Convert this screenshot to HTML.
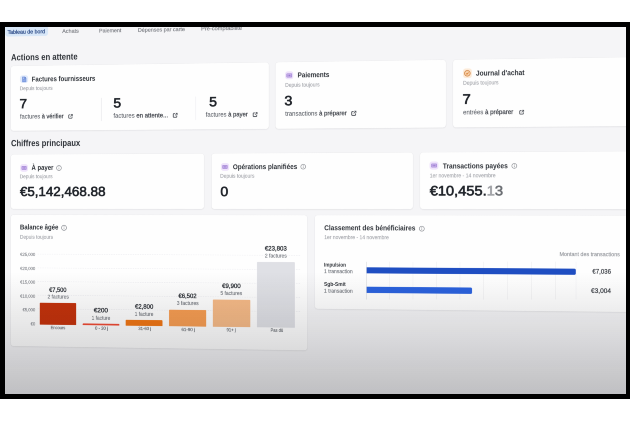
<!DOCTYPE html>
<html><head><meta charset="utf-8"><style>
html,body{margin:0;padding:0;background:#fff;width:630px;height:421px;overflow:hidden}
#frame{position:absolute;left:0;top:22px;width:630px;height:377px;background:#000}
#vp{position:absolute;left:5px;top:27px;width:621px;height:367px;overflow:hidden;background:#f5f5f7}
#scr{position:absolute;left:-5px;top:-27px;width:2800px;height:1760px;transform-origin:0 0;transform:translate(315.0px,204.0px) perspective(698.0px) rotateY(-4.0deg) translate(-315.0px,-204.0px) scale(0.25);font-family:"Liberation Sans",Arial,sans-serif;filter:blur(1.32px)}
#scr div{position:absolute}
.t{white-space:nowrap;line-height:1;transform-origin:0 0}
.t b{font-weight:400;-webkit-text-stroke:0.88px currentColor}
#shade{position:absolute;left:0;top:0;width:621px;height:367px;background:linear-gradient(to bottom,rgba(0,0,0,0) 0px,rgba(0,0,0,0) 245px,rgba(20,20,25,0.1) 300px,rgba(20,20,25,0.235) 367px)}
</style></head><body>
<div id="frame"></div>
<div id="vp"><div id="scr">
<div style="left:-22.44px;top:49.86px;width:182.41px;height:74.97px;background:#d8e7f8;border-radius:12.00px;"></div>
<div class="t" style="left:-11.77px;top:95.97px;font-size:22.40px;font-weight:400;color:#3b5891;transform:scaleX(0.9925);-webkit-text-stroke:1.20px currentColor;">Tableau de bord</div>
<div class="t" style="left:219.99px;top:96.27px;font-size:22.40px;font-weight:400;color:#808389;transform:scaleX(1.0214);-webkit-text-stroke:0.72px currentColor;">Achats</div>
<div class="t" style="left:375.15px;top:97.08px;font-size:22.40px;font-weight:400;color:#808389;transform:scaleX(0.9805);-webkit-text-stroke:0.72px currentColor;">Paiement</div>
<div class="t" style="left:537.04px;top:96.66px;font-size:22.40px;font-weight:400;color:#808389;transform:scaleX(0.9965);-webkit-text-stroke:0.72px currentColor;">Dépenses par carte</div>
<div class="t" style="left:797.61px;top:96.47px;font-size:22.40px;font-weight:400;color:#808389;transform:scaleX(1.0326);-webkit-text-stroke:0.72px currentColor;">Pré-comptabilité</div>
<div class="t" style="left:3.17px;top:192.53px;font-size:37.60px;font-weight:700;color:#30343a;transform:scaleX(0.8657);">Actions en attente</div>
<div class="t" style="left:3.17px;top:547.38px;font-size:37.60px;font-weight:700;color:#30343a;transform:scaleX(0.8553);">Chiffres principaux</div>
<div style="left:2.00px;top:247.20px;width:1071.60px;height:266.80px;background:#fefefe;border-radius:12.00px;box-shadow:0 2.40px 4.80px rgba(40,45,60,0.07),0 0 0 1.60px rgba(40,45,60,0.04);"></div>
<div style="left:1100.80px;top:247.20px;width:677.20px;height:266.80px;background:#fefefe;border-radius:12.00px;box-shadow:0 2.40px 4.80px rgba(40,45,60,0.07),0 0 0 1.60px rgba(40,45,60,0.04);"></div>
<div style="left:1806.40px;top:247.20px;width:753.60px;height:266.80px;background:#fefefe;border-radius:12.00px;box-shadow:0 2.40px 4.80px rgba(40,45,60,0.07),0 0 0 1.60px rgba(40,45,60,0.04);"></div>
<div style="left:2.00px;top:612.40px;width:808.40px;height:223.20px;background:#fefefe;border-radius:12.00px;box-shadow:0 2.40px 4.80px rgba(40,45,60,0.07),0 0 0 1.60px rgba(40,45,60,0.04);"></div>
<div style="left:841.20px;top:612.40px;width:808.00px;height:223.20px;background:#fefefe;border-radius:12.00px;box-shadow:0 2.40px 4.80px rgba(40,45,60,0.07),0 0 0 1.60px rgba(40,45,60,0.04);"></div>
<div style="left:1676.80px;top:612.40px;width:883.20px;height:223.20px;background:#fefefe;border-radius:12.00px;box-shadow:0 2.40px 4.80px rgba(40,45,60,0.07),0 0 0 1.60px rgba(40,45,60,0.04);"></div>
<div style="left:2.00px;top:860.80px;width:1227.20px;height:540.80px;background:#fefefe;border-radius:12.00px;box-shadow:0 2.40px 4.80px rgba(40,45,60,0.07),0 0 0 1.60px rgba(40,45,60,0.04);"></div>
<div style="left:1259.20px;top:860.80px;width:1300.80px;height:374.40px;background:#fefefe;border-radius:12.00px;box-shadow:0 2.40px 4.80px rgba(40,45,60,0.07),0 0 0 1.60px rgba(40,45,60,0.04);"></div>
<div style="left:41.10px;top:285.52px;width:35.31px;height:31.34px;background:#e2ebfb;border-radius:10.59px"><svg width="35.31px" height="31.34px" viewBox="0 0 10 10" style="display:block"><path d="M2.9 1.6h3l2.2 2.2v4.6a0.6 0.6 0 0 1-0.6 0.6H2.9a0.6 0.6 0 0 1-0.6-0.6V2.2a0.6 0.6 0 0 1 0.6-0.6z" fill="#7f9de0"/><path d="M5.9 1.6v1.7a0.5 0.5 0 0 0 0.5 0.5h1.7z" fill="#4a6cc2"/><path d="M3.9 3.0h1.4l-1.4 1.6z" fill="#f2f6fe"/><rect x="3.6" y="6.1" width="3.1" height="0.6" fill="#a9bfee"/></svg></div>
<div class="t" style="left:90.85px;top:286.64px;font-size:29.60px;font-weight:700;color:#30343a;transform:scaleX(0.8632);">Factures fournisseurs</div>
<div class="t" style="left:40.24px;top:329.05px;font-size:22.00px;font-weight:400;color:#a2a4aa;transform:scaleX(0.9133);-webkit-text-stroke:0.40px currentColor;">Depuis toujours</div>
<div class="t" style="left:38.54px;top:376.13px;font-size:53.20px;font-weight:400;color:#22262c;transform:scaleX(1.0800);-webkit-text-stroke:2.32px currentColor;">7</div>
<div class="t" style="left:41.10px;top:442.37px;font-size:26.00px;font-weight:400;color:#62666d;transform:scaleX(0.9268);-webkit-text-stroke:0.40px currentColor;">factures <b style="color:#42464d">à vérifier</b></div>
<div style="left:244.04px;top:446.45px"><svg width="21.49px" height="19.87px" viewBox="0 0 10 10" style="display:block;overflow:visible"><path d="M4.2 2.2H2.6a1.2 1.2 0 0 0-1.2 1.2v4.5a1.2 1.2 0 0 0 1.2 1.2h4.6a1.2 1.2 0 0 0 1.2-1.2V6.2" fill="none" stroke="#50545b" stroke-width="1.7" stroke-linecap="round"/><path d="M5.3 5.3L8.3 2.3" fill="none" stroke="#50545b" stroke-width="1.3" stroke-linecap="round"/><path d="M6.2 1.0H9.6V4.4z" fill="#50545b" stroke="#50545b" stroke-width="0.6" stroke-linejoin="round"/></svg></div>
<div style="left:383.17px;top:381.91px;width:2.40px;height:94.83px;background:#ebebee;"></div>
<div class="t" style="left:434.97px;top:376.70px;font-size:53.20px;font-weight:400;color:#22262c;transform:scaleX(1.0800);-webkit-text-stroke:2.32px currentColor;">5</div>
<div class="t" style="left:434.97px;top:442.25px;font-size:26.00px;font-weight:400;color:#62666d;transform:scaleX(0.9585);-webkit-text-stroke:0.40px currentColor;">factures <b style="color:#42464d">en attente...</b></div>
<div style="left:679.51px;top:444.69px"><svg width="21.86px" height="20.88px" viewBox="0 0 10 10" style="display:block;overflow:visible"><path d="M4.2 2.2H2.6a1.2 1.2 0 0 0-1.2 1.2v4.5a1.2 1.2 0 0 0 1.2 1.2h4.6a1.2 1.2 0 0 0 1.2-1.2V6.2" fill="none" stroke="#50545b" stroke-width="1.7" stroke-linecap="round"/><path d="M5.3 5.3L8.3 2.3" fill="none" stroke="#50545b" stroke-width="1.3" stroke-linecap="round"/><path d="M6.2 1.0H9.6V4.4z" fill="#50545b" stroke="#50545b" stroke-width="0.6" stroke-linejoin="round"/></svg></div>
<div style="left:775.06px;top:380.80px;width:2.40px;height:95.14px;background:#ebebee;"></div>
<div class="t" style="left:831.22px;top:376.09px;font-size:53.20px;font-weight:400;color:#22262c;transform:scaleX(1.0800);-webkit-text-stroke:2.32px currentColor;">5</div>
<div class="t" style="left:816.88px;top:440.87px;font-size:26.00px;font-weight:400;color:#62666d;transform:scaleX(0.9195);-webkit-text-stroke:0.40px currentColor;">factures <b style="color:#42464d">à payer</b></div>
<div style="left:1006.19px;top:445.26px"><svg width="23.94px" height="20.74px" viewBox="0 0 10 10" style="display:block;overflow:visible"><path d="M4.2 2.2H2.6a1.2 1.2 0 0 0-1.2 1.2v4.5a1.2 1.2 0 0 0 1.2 1.2h4.6a1.2 1.2 0 0 0 1.2-1.2V6.2" fill="none" stroke="#50545b" stroke-width="1.7" stroke-linecap="round"/><path d="M5.3 5.3L8.3 2.3" fill="none" stroke="#50545b" stroke-width="1.3" stroke-linecap="round"/><path d="M6.2 1.0H9.6V4.4z" fill="#50545b" stroke="#50545b" stroke-width="0.6" stroke-linejoin="round"/></svg></div>
<div style="left:1139.75px;top:283.61px;width:33.05px;height:32.51px;background:#efe3fb;border-radius:9.92px"><svg width="33.05px" height="32.51px" viewBox="0 0 10 10" style="display:block"><rect x="1.9" y="3.0" width="6.2" height="4.1" rx="0.5" fill="#c7aeea"/><rect x="1.9" y="3.0" width="6.2" height="4.1" rx="0.5" fill="none" stroke="#a386d6" stroke-width="0.8"/><circle cx="5" cy="5.05" r="0.9" fill="#9579cc"/><circle cx="3.2" cy="5.05" r="0.35" fill="#9579cc"/><circle cx="6.8" cy="5.05" r="0.35" fill="#9579cc"/></svg></div>
<div class="t" style="left:1189.71px;top:283.66px;font-size:29.60px;font-weight:700;color:#30343a;transform:scaleX(0.8614);">Paiements</div>
<div class="t" style="left:1139.75px;top:327.58px;font-size:22.00px;font-weight:400;color:#a2a4aa;transform:scaleX(0.9073);-webkit-text-stroke:0.40px currentColor;">Depuis toujours</div>
<div class="t" style="left:1137.33px;top:374.69px;font-size:53.20px;font-weight:400;color:#22262c;transform:scaleX(1.0800);-webkit-text-stroke:2.32px currentColor;">3</div>
<div class="t" style="left:1139.75px;top:440.02px;font-size:26.00px;font-weight:400;color:#62666d;transform:scaleX(0.9237);-webkit-text-stroke:0.40px currentColor;">transactions <b style="color:#42464d">à préparer</b></div>
<div style="left:1401.84px;top:442.93px"><svg width="25.07px" height="21.74px" viewBox="0 0 10 10" style="display:block;overflow:visible"><path d="M4.2 2.2H2.6a1.2 1.2 0 0 0-1.2 1.2v4.5a1.2 1.2 0 0 0 1.2 1.2h4.6a1.2 1.2 0 0 0 1.2-1.2V6.2" fill="none" stroke="#50545b" stroke-width="1.7" stroke-linecap="round"/><path d="M5.3 5.3L8.3 2.3" fill="none" stroke="#50545b" stroke-width="1.3" stroke-linecap="round"/><path d="M6.2 1.0H9.6V4.4z" fill="#50545b" stroke="#50545b" stroke-width="0.6" stroke-linejoin="round"/></svg></div>
<div style="left:1845.16px;top:281.53px;width:33.45px;height:38.26px;background:#fdebd9;border-radius:10.04px"><svg width="33.45px" height="38.26px" viewBox="0 0 10 10" style="display:block"><circle cx="5" cy="5" r="3.3" fill="#f8d4ae" stroke="#d4894a" stroke-width="0.9"/><path d="M3.6 5.1l1 1l1.8-2" fill="none" stroke="#d9782c" stroke-width="0.9"/></svg></div>
<div class="t" style="left:1895.33px;top:285.53px;font-size:29.60px;font-weight:700;color:#30343a;transform:scaleX(0.8633);">Journal d'achat</div>
<div class="t" style="left:1845.16px;top:328.40px;font-size:22.00px;font-weight:400;color:#a2a4aa;transform:scaleX(0.9010);-webkit-text-stroke:0.40px currentColor;">Depuis toujours</div>
<div class="t" style="left:1842.83px;top:376.18px;font-size:53.20px;font-weight:400;color:#22262c;transform:scaleX(1.0800);-webkit-text-stroke:2.32px currentColor;">7</div>
<div class="t" style="left:1845.16px;top:440.92px;font-size:26.00px;font-weight:400;color:#62666d;transform:scaleX(0.9092);-webkit-text-stroke:0.40px currentColor;">entrées <b style="color:#42464d">à préparer</b></div>
<div style="left:2060.07px;top:446.34px"><svg width="23.09px" height="19.41px" viewBox="0 0 10 10" style="display:block;overflow:visible"><path d="M4.2 2.2H2.6a1.2 1.2 0 0 0-1.2 1.2v4.5a1.2 1.2 0 0 0 1.2 1.2h4.6a1.2 1.2 0 0 0 1.2-1.2V6.2" fill="none" stroke="#50545b" stroke-width="1.7" stroke-linecap="round"/><path d="M5.3 5.3L8.3 2.3" fill="none" stroke="#50545b" stroke-width="1.3" stroke-linecap="round"/><path d="M6.2 1.0H9.6V4.4z" fill="#50545b" stroke="#50545b" stroke-width="0.6" stroke-linejoin="round"/></svg></div>
<div style="left:41.95px;top:652.37px;width:32.76px;height:30.61px;background:#efe3fb;border-radius:9.83px"><svg width="32.76px" height="30.61px" viewBox="0 0 10 10" style="display:block"><rect x="1.9" y="3.0" width="6.2" height="4.1" rx="0.5" fill="#c7aeea"/><rect x="1.9" y="3.0" width="6.2" height="4.1" rx="0.5" fill="none" stroke="#a386d6" stroke-width="0.8"/><circle cx="5" cy="5.05" r="0.9" fill="#9579cc"/><circle cx="3.2" cy="5.05" r="0.35" fill="#9579cc"/><circle cx="6.8" cy="5.05" r="0.35" fill="#9579cc"/></svg></div>
<div class="t" style="left:89.58px;top:650.71px;font-size:29.60px;font-weight:700;color:#30343a;transform:scaleX(0.8547);">À payer</div>
<div style="left:194.23px;top:655.96px"><svg width="24.50px" height="24.50px" viewBox="0 0 10 10" style="display:block"><circle cx="5" cy="5" r="4.1" fill="none" stroke="#8a8d93" stroke-width="1"/><rect x="4.5" y="4.4" width="1" height="3" fill="#8a8d93"/><circle cx="5" cy="3" r="0.65" fill="#8a8d93"/></svg></div>
<div class="t" style="left:39.82px;top:692.40px;font-size:22.00px;font-weight:400;color:#a2a4aa;transform:scaleX(0.9133);-webkit-text-stroke:0.40px currentColor;">Depuis toujours</div>
<div class="t" style="left:41.10px;top:738.10px;font-size:53.20px;font-weight:400;color:#22262c;transform:scaleX(1.0619);-webkit-text-stroke:2.32px currentColor;">€5,142,468.88</div>
<div style="left:879.09px;top:651.25px;width:33.48px;height:30.40px;background:#efe3fb;border-radius:10.04px"><svg width="33.48px" height="30.40px" viewBox="0 0 10 10" style="display:block"><rect x="1.9" y="3.0" width="6.2" height="4.1" rx="0.5" fill="#c7aeea"/><rect x="1.9" y="3.0" width="6.2" height="4.1" rx="0.5" fill="none" stroke="#a386d6" stroke-width="0.8"/><circle cx="5" cy="5.05" r="0.9" fill="#9579cc"/><circle cx="3.2" cy="5.05" r="0.35" fill="#9579cc"/><circle cx="6.8" cy="5.05" r="0.35" fill="#9579cc"/></svg></div>
<div class="t" style="left:928.07px;top:651.04px;font-size:29.60px;font-weight:700;color:#30343a;transform:scaleX(0.8665);">Opérations planifiées</div>
<div style="left:1200.97px;top:654.97px"><svg width="23.31px" height="23.31px" viewBox="0 0 10 10" style="display:block"><circle cx="5" cy="5" r="4.1" fill="none" stroke="#8a8d93" stroke-width="1"/><rect x="4.5" y="4.4" width="1" height="3" fill="#8a8d93"/><circle cx="5" cy="3" r="0.65" fill="#8a8d93"/></svg></div>
<div class="t" style="left:876.23px;top:691.74px;font-size:22.00px;font-weight:400;color:#a2a4aa;transform:scaleX(0.9139);-webkit-text-stroke:0.40px currentColor;">Depuis toujours</div>
<div class="t" style="left:876.64px;top:739.06px;font-size:53.20px;font-weight:400;color:#22262c;transform:scaleX(1.0800);-webkit-text-stroke:2.32px currentColor;">0</div>
<div style="left:1713.52px;top:648.32px;width:35.63px;height:31.36px;background:#efe3fb;border-radius:10.69px"><svg width="35.63px" height="31.36px" viewBox="0 0 10 10" style="display:block"><rect x="1.9" y="3.0" width="6.2" height="4.1" rx="0.5" fill="#c7aeea"/><rect x="1.9" y="3.0" width="6.2" height="4.1" rx="0.5" fill="none" stroke="#a386d6" stroke-width="0.8"/><circle cx="5" cy="5.05" r="0.9" fill="#9579cc"/><circle cx="3.2" cy="5.05" r="0.35" fill="#9579cc"/><circle cx="6.8" cy="5.05" r="0.35" fill="#9579cc"/></svg></div>
<div class="t" style="left:1766.36px;top:650.80px;font-size:29.60px;font-weight:700;color:#30343a;transform:scaleX(0.8669);">Transactions payées</div>
<div style="left:2031.55px;top:654.63px"><svg width="23.13px" height="23.13px" viewBox="0 0 10 10" style="display:block"><circle cx="5" cy="5" r="4.1" fill="none" stroke="#8a8d93" stroke-width="1"/><rect x="4.5" y="4.4" width="1" height="3" fill="#8a8d93"/><circle cx="5" cy="3" r="0.65" fill="#8a8d93"/></svg></div>
<div class="t" style="left:1715.09px;top:692.55px;font-size:22.00px;font-weight:400;color:#a2a4aa;transform:scaleX(0.9031);-webkit-text-stroke:0.40px currentColor;">1er novembre - 14 novembre</div>
<div class="t" style="left:1715.09px;top:736.71px;font-size:53.20px;font-weight:400;color:#22262c;transform:scaleX(1.0711);-webkit-text-stroke:2.32px currentColor;">€10,455.<span style="color:#a2a4a8">1</span><span style="color:#6c6f74">3</span></div>
<div class="t" style="left:40.67px;top:896.25px;font-size:29.60px;font-weight:700;color:#30343a;transform:scaleX(0.8606);">Balance âgée</div>
<div style="left:214.51px;top:900.59px"><svg width="25.32px" height="25.32px" viewBox="0 0 10 10" style="display:block"><circle cx="5" cy="5" r="4.1" fill="none" stroke="#8a8d93" stroke-width="1"/><rect x="4.5" y="4.4" width="1" height="3" fill="#8a8d93"/><circle cx="5" cy="3" r="0.65" fill="#8a8d93"/></svg></div>
<div class="t" style="left:40.67px;top:940.94px;font-size:22.00px;font-weight:400;color:#a2a4aa;transform:scaleX(0.9160);-webkit-text-stroke:0.40px currentColor;">Depuis toujours</div>
<div class="t" style="left:42.09px;top:1015.92px;font-size:17.60px;font-weight:400;color:#7f8288;-webkit-text-stroke:0.40px currentColor;">€25,000</div>
<div style="left:116.32px;top:1020.85px;width:1083.44px;height:2.00px;border-top:2.00px dashed #ececf0;"></div>
<div class="t" style="left:42.09px;top:1073.54px;font-size:17.60px;font-weight:400;color:#7f8288;-webkit-text-stroke:0.40px currentColor;">€20,000</div>
<div style="left:116.32px;top:1077.69px;width:1083.44px;height:2.00px;border-top:2.00px dashed #ececf0;"></div>
<div class="t" style="left:42.09px;top:1130.33px;font-size:17.60px;font-weight:400;color:#7f8288;-webkit-text-stroke:0.40px currentColor;">€15,000</div>
<div style="left:116.32px;top:1133.72px;width:1083.44px;height:2.00px;border-top:2.00px dashed #ececf0;"></div>
<div class="t" style="left:42.09px;top:1187.53px;font-size:17.60px;font-weight:400;color:#7f8288;-webkit-text-stroke:0.40px currentColor;">€10,000</div>
<div style="left:116.32px;top:1190.16px;width:1083.44px;height:2.00px;border-top:2.00px dashed #ececf0;"></div>
<div class="t" style="left:51.88px;top:1244.33px;font-size:17.60px;font-weight:400;color:#7f8288;-webkit-text-stroke:0.40px currentColor;">€5,000</div>
<div style="left:116.32px;top:1246.19px;width:1083.44px;height:2.00px;border-top:2.00px dashed #ececf0;"></div>
<div class="t" style="left:86.13px;top:1302.35px;font-size:17.60px;font-weight:400;color:#7f8288;-webkit-text-stroke:0.40px currentColor;">€0</div>
<div style="left:125.23px;top:1222.47px;width:153.35px;height:89.53px;background:#c4320b;border-radius:3.60px 3.60px 1.60px 1.60px;"></div>
<div style="left:306.34px;top:1304.88px;width:153.26px;height:7.12px;background:#f04b34;border-radius:3.60px 3.60px 1.60px 1.60px;"></div>
<div style="left:486.28px;top:1287.67px;width:153.16px;height:24.33px;background:#f07614;border-radius:3.60px 3.60px 1.60px 1.60px;"></div>
<div style="left:665.88px;top:1245.08px;width:152.64px;height:66.92px;background:#f79d52;border-radius:3.60px 3.60px 1.60px 1.60px;"></div>
<div style="left:846.37px;top:1201.62px;width:152.50px;height:110.38px;background:#f6ba87;border-radius:3.60px 3.60px 1.60px 1.60px;"></div>
<div style="left:1025.67px;top:1048.91px;width:153.17px;height:263.09px;background:#dfe0e5;border-radius:3.60px 3.60px 1.60px 1.60px;"></div>
<div class="t" style="left:165.47px;top:1154.88px;font-size:26.00px;font-weight:400;color:#30343a;transform:scaleX(0.9190);-webkit-text-stroke:1.20px currentColor;">€7,500</div>
<div class="t" style="left:158.27px;top:1186.25px;font-size:22.40px;font-weight:400;color:#6f737a;transform:scaleX(0.9148);-webkit-text-stroke:0.40px currentColor;">2 factures</div>
<div class="t" style="left:353.36px;top:1237.09px;font-size:26.00px;font-weight:400;color:#30343a;transform:scaleX(1.0280);-webkit-text-stroke:1.20px currentColor;">€200</div>
<div class="t" style="left:344.13px;top:1270.80px;font-size:22.40px;font-weight:400;color:#6f737a;transform:scaleX(0.8936);-webkit-text-stroke:0.40px currentColor;">1 facture</div>
<div class="t" style="left:524.99px;top:1220.08px;font-size:26.00px;font-weight:400;color:#30343a;transform:scaleX(0.9551);-webkit-text-stroke:1.20px currentColor;">€2,800</div>
<div class="t" style="left:523.74px;top:1253.25px;font-size:22.40px;font-weight:400;color:#6f737a;transform:scaleX(0.8858);-webkit-text-stroke:0.40px currentColor;">1 facture</div>
<div class="t" style="left:705.49px;top:1175.26px;font-size:26.00px;font-weight:400;color:#30343a;transform:scaleX(0.9364);-webkit-text-stroke:1.20px currentColor;">€6,502</div>
<div class="t" style="left:697.66px;top:1207.47px;font-size:22.40px;font-weight:400;color:#6f737a;transform:scaleX(0.9160);-webkit-text-stroke:0.40px currentColor;">3 factures</div>
<div class="t" style="left:883.99px;top:1133.23px;font-size:26.00px;font-weight:400;color:#30343a;transform:scaleX(0.9537);-webkit-text-stroke:1.20px currentColor;">€9,900</div>
<div class="t" style="left:877.05px;top:1165.33px;font-size:22.40px;font-weight:400;color:#6f737a;transform:scaleX(0.8996);-webkit-text-stroke:0.40px currentColor;">5 factures</div>
<div class="t" style="left:1057.69px;top:981.13px;font-size:26.00px;font-weight:400;color:#30343a;transform:scaleX(0.9417);-webkit-text-stroke:1.20px currentColor;">€23,803</div>
<div class="t" style="left:1057.69px;top:1013.09px;font-size:22.40px;font-weight:400;color:#6f737a;transform:scaleX(0.8998);-webkit-text-stroke:0.40px currentColor;">2 factures</div>
<div class="t" style="left:171.39px;top:1316.37px;font-size:17.60px;font-weight:400;color:#5a5e65;transform:scaleX(0.9618);-webkit-text-stroke:0.40px currentColor;">Encours</div>
<div class="t" style="left:358.39px;top:1315.70px;font-size:17.60px;font-weight:400;color:#5a5e65;transform:scaleX(1.0116);-webkit-text-stroke:0.40px currentColor;">0 - 30 j</div>
<div class="t" style="left:539.12px;top:1314.66px;font-size:17.60px;font-weight:400;color:#5a5e65;transform:scaleX(0.9794);-webkit-text-stroke:0.40px currentColor;">31-60 j</div>
<div class="t" style="left:717.03px;top:1317.26px;font-size:17.60px;font-weight:400;color:#5a5e65;transform:scaleX(1.0396);-webkit-text-stroke:0.40px currentColor;">61-90 j</div>
<div class="t" style="left:901.55px;top:1316.23px;font-size:17.60px;font-weight:400;color:#5a5e65;transform:scaleX(0.9811);-webkit-text-stroke:0.40px currentColor;">91+ j</div>
<div class="t" style="left:1080.77px;top:1315.47px;font-size:17.60px;font-weight:400;color:#5a5e65;transform:scaleX(0.9291);-webkit-text-stroke:0.40px currentColor;">Pas dû</div>
<div class="t" style="left:1296.86px;top:895.97px;font-size:29.60px;font-weight:700;color:#30343a;transform:scaleX(0.8724);">Classement des bénéficiaires</div>
<div style="left:1672.33px;top:901.98px"><svg width="23.55px" height="23.55px" viewBox="0 0 10 10" style="display:block"><circle cx="5" cy="5" r="4.1" fill="none" stroke="#8a8d93" stroke-width="1"/><rect x="4.5" y="4.4" width="1" height="3" fill="#8a8d93"/><circle cx="5" cy="3" r="0.65" fill="#8a8d93"/></svg></div>
<div class="t" style="left:1296.86px;top:937.60px;font-size:22.00px;font-weight:400;color:#a2a4aa;transform:scaleX(0.9055);-webkit-text-stroke:0.40px currentColor;">1er novembre - 14 novembre</div>
<div class="t" style="left:2216.57px;top:1001.42px;font-size:22.40px;font-weight:400;color:#8d9096;transform:scaleX(0.9166);-webkit-text-stroke:0.40px currentColor;">Montant des transactions</div>
<div class="t" style="left:1296.06px;top:1048.07px;font-size:22.00px;font-weight:700;color:#30343a;transform:scaleX(0.8457);">Impulsion</div>
<div class="t" style="left:1296.06px;top:1073.93px;font-size:22.00px;font-weight:400;color:#6f737a;transform:scaleX(0.9093);-webkit-text-stroke:0.40px currentColor;">1 transaction</div>
<div class="t" style="left:1296.06px;top:1125.13px;font-size:22.00px;font-weight:700;color:#30343a;transform:scaleX(0.8976);">Sgb-Smit</div>
<div class="t" style="left:1296.06px;top:1151.75px;font-size:22.00px;font-weight:400;color:#6f737a;transform:scaleX(0.9093);-webkit-text-stroke:0.40px currentColor;">1 transaction</div>
<div style="left:1555.12px;top:1045.09px;width:2.00px;height:150.08px;background:#eeeef1;"></div>
<div style="left:1648.14px;top:1044.56px;width:2.00px;height:149.73px;background:#eeeef1;"></div>
<div style="left:1740.33px;top:1044.02px;width:2.00px;height:149.38px;background:#eeeef1;"></div>
<div style="left:1832.09px;top:1043.50px;width:2.00px;height:149.04px;background:#eeeef1;"></div>
<div style="left:1923.43px;top:1042.97px;width:2.00px;height:148.69px;background:#eeeef1;"></div>
<div style="left:2017.43px;top:1042.43px;width:2.00px;height:148.33px;background:#eeeef1;"></div>
<div style="left:2108.69px;top:1041.90px;width:2.00px;height:147.99px;background:#eeeef1;"></div>
<div style="left:2200.66px;top:1041.37px;width:2.00px;height:147.64px;background:#eeeef1;"></div>
<div style="left:2279.26px;top:1040.92px;width:2.00px;height:147.35px;background:#eeeef1;"></div>
<div style="left:1463.65px;top:1045.62px;width:2.00px;height:150.43px;background:#d9dadd;"></div>
<div style="left:1465.84px;top:1067.60px;width:813.28px;height:24.00px;background:#1f4ec2;border-radius:0 5.20px 5.20px 0;"></div>
<div style="left:1465.84px;top:1145.20px;width:414.33px;height:24.40px;background:#2b62dd;border-radius:0 5.20px 5.20px 0;"></div>
<div class="t" style="left:2342.23px;top:1064.67px;font-size:26.40px;font-weight:400;color:#33373e;transform:scaleX(0.8775);-webkit-text-stroke:0.72px currentColor;">€7,036</div>
<div class="t" style="left:2337.30px;top:1139.73px;font-size:26.40px;font-weight:400;color:#33373e;transform:scaleX(0.9386);-webkit-text-stroke:0.72px currentColor;">€3,004</div>
</div><div id="shade"></div></div>
</body></html>
